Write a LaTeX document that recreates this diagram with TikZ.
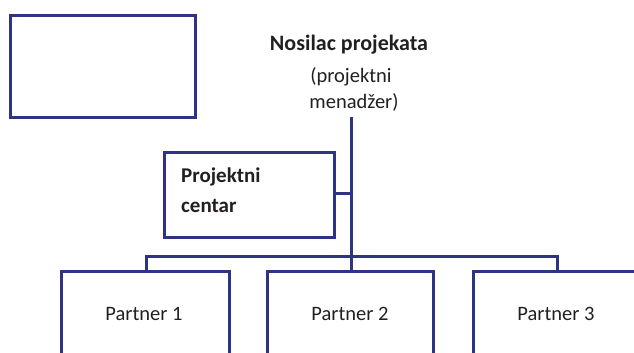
\documentclass[tikz,border=0pt]{standalone}
\usepackage{fontspec}
\setmainfont{Carlito}
\definecolor{navy}{HTML}{2E3383}
\definecolor{txt}{HTML}{231F20}
\begin{document}
\begin{tikzpicture}[x=1pt,y=-1pt,
  box/.style={draw=navy,line width=3pt,rectangle,inner sep=0pt,anchor=north west},
  conn/.style={draw=navy,line width=3pt},
  lbl/.style={text=txt,font=\fontsize{20.5}{24}\selectfont,inner sep=0pt},
  blbl/.style={text=txt,font=\fontsize{21}{25}\selectfont\bfseries,inner sep=0pt}]
\useasboundingbox (0,0) rectangle (634,353);
\clip (0,0) rectangle (634,353);
\node[box,minimum width=185pt,minimum height=102pt] (empty) at (9,14) {};
\node[blbl,font=\fontsize{22}{26}\selectfont\bfseries] (nos) at (349,45) {Nosilac projekata};
\node[lbl] (pm1) at (351,77) {(projektni};
\node[lbl] (pm2) at (354,102) {menadžer)};
\coordinate (top) at (351,117);
\node[box,minimum width=170pt,minimum height=85pt] (pc) at (163,151) {};
\node[blbl,anchor=west] (pct1) at (181,177) {Projektni};
\node[blbl,anchor=west] (pct2) at (181,206) {centar};
\node[box,minimum width=168pt,minimum height=120pt] (p1) at (60,270) {};
\node[box,minimum width=166pt,minimum height=120pt] (p2) at (266,270) {};
\node[box,minimum width=180pt,minimum height=120pt] (p3) at (472,270) {};
\node[lbl] (p1t) at (144,314) {Partner 1};
\node[lbl] (p2t) at (350,314) {Partner 2};
\node[lbl] (p3t) at (556,314) {Partner 3};
\coordinate (bus) at (351,256);
\coordinate (busL) at (146,256);
\coordinate (busR) at (557,256);
\coordinate (pcj) at (351,193);
\draw[conn] (top) -- (p2.north -| top);
\draw[conn] (pc.east |- pcj) -- (pcj);
\draw[conn,line cap=rect] (busL) -- (busR);
\draw[conn] (busL) -- (p1.north -| busL);
\draw[conn] (busR) -- (p3.north -| busR);
\end{tikzpicture}
\end{document}
